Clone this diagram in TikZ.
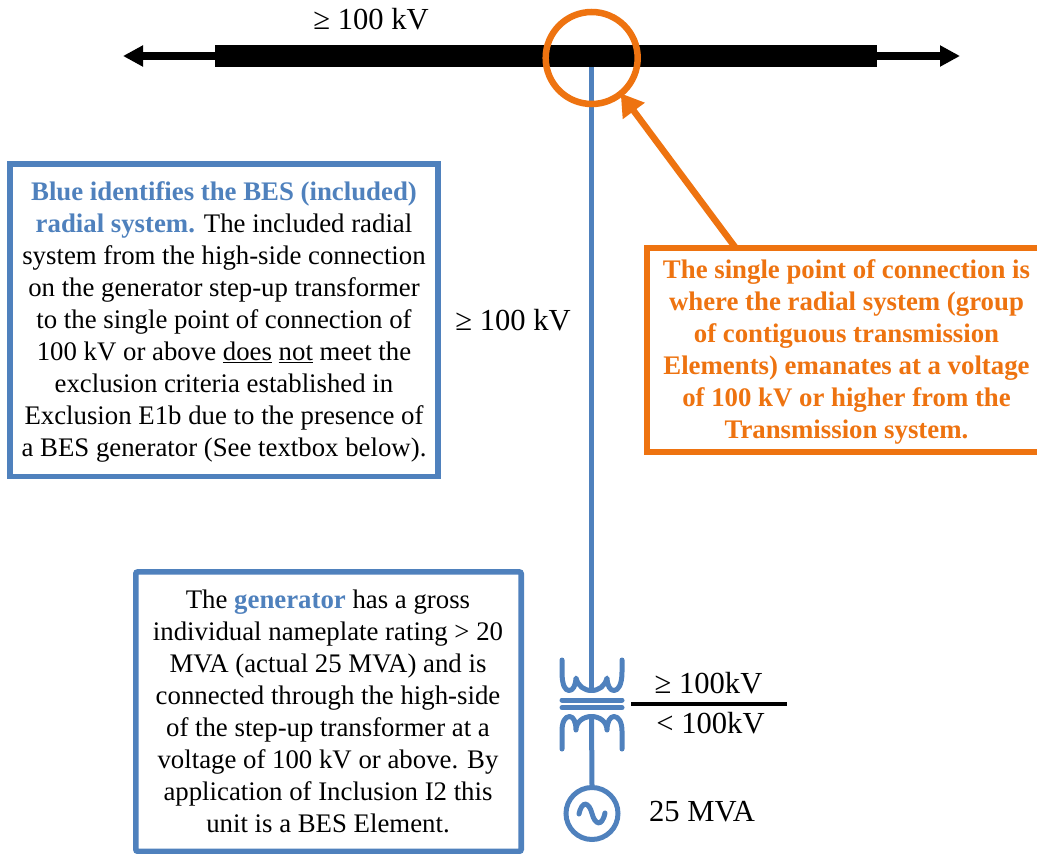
\documentclass[tikz,border=0pt]{standalone}
\usepackage{fontspec}
\setmainfont{Liberation Serif}
\usetikzlibrary{arrows.meta}
\definecolor{bes}{HTML}{4F81BD}
\definecolor{pt}{HTML}{EE7310}
\newcommand{\bt}[1]{\textcolor{bes}{\bfseries #1}}
\tikzset{
  x=1pt,y=-1pt,
  txt/.style={inner sep=0pt,outer sep=0pt,align=center,font=\fontsize{26.8}{32}\selectfont},
  lbl/.style={inner sep=0pt,outer sep=0pt,align=center,font=\fontsize{30.6}{36}\selectfont},
  framebox/.style={draw,line width=5.6pt,fill=white,inner sep=0pt,outer sep=0pt,minimum width=#1},
  wire/.style={bes,line width=5pt,line cap=round,line join=round},
  busline/.style={black,line width=8pt},
  bustip/.style={-{Triangle[length=20pt,width=20pt]}},
  pointer/.style={pt,line width=6.5pt,-{Triangle[length=22pt,width=26pt]},shorten >=0pt},
}
\begin{document}
\begin{tikzpicture}
\useasboundingbox (0,0) rectangle (1037,854);
% bus
\coordinate (busL) at (123,56);
\coordinate (busR) at (960,56);
\node[fill=black,inner sep=0pt,minimum width=662pt,minimum height=22pt] (bus) at (546,56) {};
\draw[busline,bustip] (bus.west) -- (busL);
\draw[busline,bustip] (bus.east) -- (busR);
\node[lbl] (lblbus) at (371,19) {≥ 100 kV};
% radial line
\coordinate (xfTop) at (591.5,690.5);
\coordinate (xfBot) at (591.5,716.5);
\coordinate (busTap) at (591.5,67);
\draw[wire,line cap=butt] (busTap) -- (xfTop);
% ring
\node[circle,draw=pt,line width=6.5pt,inner sep=0pt,minimum size=92pt] (ring) at (591.7,58) {};
% transformer upper winding
\draw[wire] (562,660) -- (562,672) .. controls (562,685) and (565,690.5) .. (569,690.5)
  .. controls (573,690.5) and (575.5,686) .. (576,678)
  .. controls (578,686) and (584,690.5) .. (591.5,690.5)
  .. controls (599,690.5) and (605,686) .. (607,678)
  .. controls (607.5,686) and (610,690.5) .. (614,690.5)
  .. controls (618,690.5) and (622,685) .. (622,672) -- (622,660);
\draw[wire] (562,700) -- (622,700);
\draw[wire] (562,707.7) -- (622,707.7);
% lower winding
\draw[wire] (562,749) -- (562,731) .. controls (562,722) and (565,716.5) .. (569.5,716.5)
  .. controls (573.5,716.5) and (576,722) .. (576,730)
  .. controls (576,722) and (583,716.5) .. (591.5,716.5)
  .. controls (600,716.5) and (607,722) .. (607,730)
  .. controls (607,722) and (610,716.5) .. (614,716.5)
  .. controls (618.5,716.5) and (622,722) .. (622,731) -- (622,749);
% generator
\node[circle,draw=bes,line width=5pt,inner sep=0pt,minimum size=52pt] (gen) at (592,813.5) {};
\draw[wire,line cap=butt] (xfBot) -- (gen.north);
\draw[bes,line width=5pt,line cap=round] (579,814) .. controls (582,800) and (589,802) .. (592,813.5) .. controls (595,825) and (602,827) .. (605,813);
% voltage divider
\coordinate (divL) at (631,704);
\coordinate (divR) at (787,704);
\draw[black,line width=4pt] (divL) -- (divR);
\node[lbl] (lblhv) at (708.5,683) {≥ 100kV};
\node[lbl] (lbllv) at (710.5,723) {< 100kV};
\node[lbl] (lblmva) at (702,812) {25 MVA};
\node[lbl] (lblline) at (513,320) {≥ 100 kV};
% blue box 1
\node[framebox=428.4pt,draw=bes,minimum height=312.4pt] (boxA) at (224,320.3) {};
\node[txt] (txtA) at (224,321.5) {\bt{Blue identifies the BES (included)}\\
\bt{radial system.} The included radial\\
system from the high-side connection\\
on the generator step-up transformer\\
to the single point of connection of\\
100 kV or above \underline{does} \underline{not} meet the\\
exclusion criteria established in\\
Exclusion E1b due to the presence of\\
a BES generator (See textbox below).};
% blue box 2
\node[framebox=385.4pt,draw=bes,rounded corners=2pt,minimum height=279.4pt] (boxB) at (328.5,711.6) {};
\node[txt] (txtB) at (328,711.8) {The \bt{generator} has a gross\\
individual nameplate rating > 20\\
MVA (actual 25 MVA) and is\\
connected through the high-side\\
of the step-up transformer at a\\
voltage of 100 kV or above. By\\
application of Inclusion I2 this\\
unit is a BES Element.};
% orange box
\draw[pt,line width=6pt,fill=white] (1045,248) -- (646.5,248) -- (646.5,452) -- (1045,452);
\coordinate (boxCtop) at (735,247);
\node[txt,text=pt,font=\fontsize{26.8}{32}\selectfont\bfseries] (txtC) at (846.5,352) {The single point of connection is\\
where the radial system (group\\
of contiguous transmission\\
Elements) emanates at a voltage\\
of 100 kV or higher from the\\
Transmission system.};
\coordinate (ringHit) at (620.7,93.3);
\draw[pointer] (boxCtop) -- (ringHit);
\end{tikzpicture}
\end{document}
